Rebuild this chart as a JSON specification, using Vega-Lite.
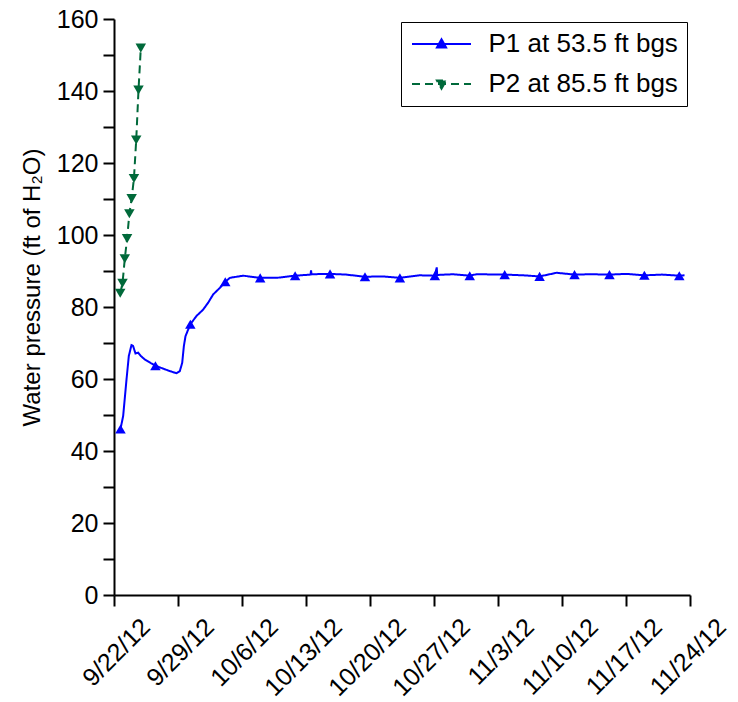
{
  "$schema": "https://vega.github.io/schema/vega-lite/v6.json",
  "width": 576,
  "height": 576,
  "padding": {"left": 20, "top": 7, "right": 5, "bottom": 5},
  "config": {
    "view": {"stroke": null},
    "font": "Liberation Sans",
    "axis": {
      "domainColor": "black", "domainWidth": 2, "tickColor": "black", "tickWidth": 2, "tickSize": 11,
      "labelColor": "black", "titleColor": "black", "labelFont": "Liberation Sans", "titleFont": "Liberation Sans",
      "labelFontSize": 25, "titleFontSize": 24, "titleFontWeight": "normal", "grid": false, "labelPadding": 5,
      "labelOverlap": false
    },
    "legend": {"labelFont": "Liberation Sans"}
  },
  "datasets": {
    "lines": [
      {"series": "P1 at 53.5 ft bgs", "time": "2012-09-22T17:02", "pressure": 46.1},
      {"series": "P1 at 53.5 ft bgs", "time": "2012-09-23T00:00", "pressure": 49.7},
      {"series": "P1 at 53.5 ft bgs", "time": "2012-09-23T08:53", "pressure": 59.9},
      {"series": "P1 at 53.5 ft bgs", "time": "2012-09-23T14:53", "pressure": 66.4},
      {"series": "P1 at 53.5 ft bgs", "time": "2012-09-23T21:50", "pressure": 69.4},
      {"series": "P1 at 53.5 ft bgs", "time": "2012-09-24T02:00", "pressure": 69.2},
      {"series": "P1 at 53.5 ft bgs", "time": "2012-09-24T08:24", "pressure": 67.1},
      {"series": "P1 at 53.5 ft bgs", "time": "2012-09-24T15:36", "pressure": 67.3},
      {"series": "P1 at 53.5 ft bgs", "time": "2012-09-24T22:19", "pressure": 66.4},
      {"series": "P1 at 53.5 ft bgs", "time": "2012-09-25T08:53", "pressure": 65.4},
      {"series": "P1 at 53.5 ft bgs", "time": "2012-09-26T02:24", "pressure": 64.3},
      {"series": "P1 at 53.5 ft bgs", "time": "2012-09-26T12:43", "pressure": 63.7},
      {"series": "P1 at 53.5 ft bgs", "time": "2012-09-27T13:26", "pressure": 62.7},
      {"series": "P1 at 53.5 ft bgs", "time": "2012-09-28T02:24", "pressure": 62.2},
      {"series": "P1 at 53.5 ft bgs", "time": "2012-09-28T20:10", "pressure": 61.6},
      {"series": "P1 at 53.5 ft bgs", "time": "2012-09-29T04:48", "pressure": 62.2},
      {"series": "P1 at 53.5 ft bgs", "time": "2012-09-29T11:02", "pressure": 64.5},
      {"series": "P1 at 53.5 ft bgs", "time": "2012-09-29T15:22", "pressure": 69.1},
      {"series": "P1 at 53.5 ft bgs", "time": "2012-09-29T19:41", "pressure": 71.9},
      {"series": "P1 at 53.5 ft bgs", "time": "2012-09-30T08:24", "pressure": 75.2},
      {"series": "P1 at 53.5 ft bgs", "time": "2012-10-01T00:29", "pressure": 77.5},
      {"series": "P1 at 53.5 ft bgs", "time": "2012-10-01T18:14", "pressure": 79.3},
      {"series": "P1 at 53.5 ft bgs", "time": "2012-10-02T07:12", "pressure": 81.2},
      {"series": "P1 at 53.5 ft bgs", "time": "2012-10-02T20:24", "pressure": 83.5},
      {"series": "P1 at 53.5 ft bgs", "time": "2012-10-03T13:41", "pressure": 85.3},
      {"series": "P1 at 53.5 ft bgs", "time": "2012-10-04T04:05", "pressure": 87.0},
      {"series": "P1 at 53.5 ft bgs", "time": "2012-10-04T16:05", "pressure": 88.1},
      {"series": "P1 at 53.5 ft bgs", "time": "2012-10-06T03:07", "pressure": 88.7},
      {"series": "P1 at 53.5 ft bgs", "time": "2012-10-07T00:58", "pressure": 88.4},
      {"series": "P1 at 53.5 ft bgs", "time": "2012-10-07T23:46", "pressure": 88.1},
      {"series": "P1 at 53.5 ft bgs", "time": "2012-10-09T19:12", "pressure": 88.1},
      {"series": "P1 at 53.5 ft bgs", "time": "2012-10-11T19:26", "pressure": 88.7},
      {"series": "P1 at 53.5 ft bgs", "time": "2012-10-13T12:00", "pressure": 89.0},
      {"series": "P1 at 53.5 ft bgs", "time": "2012-10-13T13:12", "pressure": 90.2},
      {"series": "P1 at 53.5 ft bgs", "time": "2012-10-13T14:24", "pressure": 89.1},
      {"series": "P1 at 53.5 ft bgs", "time": "2012-10-15T15:07", "pressure": 89.2},
      {"series": "P1 at 53.5 ft bgs", "time": "2012-10-17T09:36", "pressure": 89.0},
      {"series": "P1 at 53.5 ft bgs", "time": "2012-10-19T10:48", "pressure": 88.4},
      {"series": "P1 at 53.5 ft bgs", "time": "2012-10-21T09:36", "pressure": 88.5},
      {"series": "P1 at 53.5 ft bgs", "time": "2012-10-23T06:29", "pressure": 88.1},
      {"series": "P1 at 53.5 ft bgs", "time": "2012-10-25T09:36", "pressure": 88.8},
      {"series": "P1 at 53.5 ft bgs", "time": "2012-10-27T02:10", "pressure": 88.7},
      {"series": "P1 at 53.5 ft bgs", "time": "2012-10-27T07:12", "pressure": 91.0},
      {"series": "P1 at 53.5 ft bgs", "time": "2012-10-27T08:24", "pressure": 88.9},
      {"series": "P1 at 53.5 ft bgs", "time": "2012-10-29T02:24", "pressure": 89.1},
      {"series": "P1 at 53.5 ft bgs", "time": "2012-10-30T21:50", "pressure": 88.7},
      {"series": "P1 at 53.5 ft bgs", "time": "2012-10-31T15:36", "pressure": 89.1},
      {"series": "P1 at 53.5 ft bgs", "time": "2012-11-03T17:31", "pressure": 89.0},
      {"series": "P1 at 53.5 ft bgs", "time": "2012-11-05T18:14", "pressure": 88.8},
      {"series": "P1 at 53.5 ft bgs", "time": "2012-11-07T13:12", "pressure": 88.5},
      {"series": "P1 at 53.5 ft bgs", "time": "2012-11-09T09:36", "pressure": 89.5},
      {"series": "P1 at 53.5 ft bgs", "time": "2012-11-11T08:53", "pressure": 89.0},
      {"series": "P1 at 53.5 ft bgs", "time": "2012-11-13T04:48", "pressure": 89.1},
      {"series": "P1 at 53.5 ft bgs", "time": "2012-11-15T04:34", "pressure": 89.0},
      {"series": "P1 at 53.5 ft bgs", "time": "2012-11-17T01:12", "pressure": 89.2},
      {"series": "P1 at 53.5 ft bgs", "time": "2012-11-19T00:14", "pressure": 88.8},
      {"series": "P1 at 53.5 ft bgs", "time": "2012-11-20T21:36", "pressure": 89.0},
      {"series": "P1 at 53.5 ft bgs", "time": "2012-11-22T19:55", "pressure": 88.7},
      {"series": "P1 at 53.5 ft bgs", "time": "2012-11-23T09:36", "pressure": 88.8},
      {"series": "P2 at 85.5 ft bgs", "time": "2012-09-22T16:20", "pressure": 83.8},
      {"series": "P2 at 85.5 ft bgs", "time": "2012-09-22T22:20", "pressure": 86.6},
      {"series": "P2 at 85.5 ft bgs", "time": "2012-09-23T04:20", "pressure": 93.4},
      {"series": "P2 at 85.5 ft bgs", "time": "2012-09-23T10:20", "pressure": 99.0},
      {"series": "P2 at 85.5 ft bgs", "time": "2012-09-23T16:20", "pressure": 105.9},
      {"series": "P2 at 85.5 ft bgs", "time": "2012-09-23T22:20", "pressure": 110.1},
      {"series": "P2 at 85.5 ft bgs", "time": "2012-09-24T04:20", "pressure": 115.7},
      {"series": "P2 at 85.5 ft bgs", "time": "2012-09-24T10:20", "pressure": 126.4},
      {"series": "P2 at 85.5 ft bgs", "time": "2012-09-24T16:20", "pressure": 140.3},
      {"series": "P2 at 85.5 ft bgs", "time": "2012-09-24T22:20", "pressure": 151.9}
    ],
    "markers": [
      {"series": "P1 at 53.5 ft bgs", "time": "2012-09-22T17:02", "pressure": 46.1},
      {"series": "P1 at 53.5 ft bgs", "time": "2012-09-26T12:43", "pressure": 63.7},
      {"series": "P1 at 53.5 ft bgs", "time": "2012-09-30T08:24", "pressure": 75.2},
      {"series": "P1 at 53.5 ft bgs", "time": "2012-10-04T04:05", "pressure": 87.0},
      {"series": "P1 at 53.5 ft bgs", "time": "2012-10-07T23:46", "pressure": 88.1},
      {"series": "P1 at 53.5 ft bgs", "time": "2012-10-11T19:26", "pressure": 88.7},
      {"series": "P1 at 53.5 ft bgs", "time": "2012-10-15T15:07", "pressure": 89.2},
      {"series": "P1 at 53.5 ft bgs", "time": "2012-10-19T10:48", "pressure": 88.4},
      {"series": "P1 at 53.5 ft bgs", "time": "2012-10-23T06:29", "pressure": 88.1},
      {"series": "P1 at 53.5 ft bgs", "time": "2012-10-27T02:10", "pressure": 88.7},
      {"series": "P1 at 53.5 ft bgs", "time": "2012-10-30T21:50", "pressure": 88.7},
      {"series": "P1 at 53.5 ft bgs", "time": "2012-11-03T17:31", "pressure": 89.0},
      {"series": "P1 at 53.5 ft bgs", "time": "2012-11-07T13:12", "pressure": 88.5},
      {"series": "P1 at 53.5 ft bgs", "time": "2012-11-11T08:53", "pressure": 89.0},
      {"series": "P1 at 53.5 ft bgs", "time": "2012-11-15T04:34", "pressure": 89.0},
      {"series": "P1 at 53.5 ft bgs", "time": "2012-11-19T00:14", "pressure": 88.8},
      {"series": "P1 at 53.5 ft bgs", "time": "2012-11-22T19:55", "pressure": 88.7},
      {"series": "P2 at 85.5 ft bgs", "time": "2012-09-22T16:20", "pressure": 83.8},
      {"series": "P2 at 85.5 ft bgs", "time": "2012-09-22T22:20", "pressure": 86.6},
      {"series": "P2 at 85.5 ft bgs", "time": "2012-09-23T04:20", "pressure": 93.4},
      {"series": "P2 at 85.5 ft bgs", "time": "2012-09-23T10:20", "pressure": 99.0},
      {"series": "P2 at 85.5 ft bgs", "time": "2012-09-23T16:20", "pressure": 105.9},
      {"series": "P2 at 85.5 ft bgs", "time": "2012-09-23T22:20", "pressure": 110.1},
      {"series": "P2 at 85.5 ft bgs", "time": "2012-09-24T04:20", "pressure": 115.7},
      {"series": "P2 at 85.5 ft bgs", "time": "2012-09-24T10:20", "pressure": 126.4},
      {"series": "P2 at 85.5 ft bgs", "time": "2012-09-24T16:20", "pressure": 140.3},
      {"series": "P2 at 85.5 ft bgs", "time": "2012-09-24T22:20", "pressure": 151.9}
    ]
  },
  "encoding": {
    "x": {
      "field": "time", "type": "temporal", "title": null,
      "scale": {"domain": [{"year": 2012, "month": 9, "date": 22}, {"year": 2012, "month": 11, "date": 24}]},
      "axis": {
        "format": "%-m/%-d/%y", "labelAngle": -45, "labelAlign": "right", "labelBaseline": "top",
        "labelOffset": 23, "labelPadding": 8,
        "values": [
          {"year": 2012, "month": 9, "date": 22}, {"year": 2012, "month": 9, "date": 29},
          {"year": 2012, "month": 10, "date": 6}, {"year": 2012, "month": 10, "date": 13},
          {"year": 2012, "month": 10, "date": 20}, {"year": 2012, "month": 10, "date": 27},
          {"year": 2012, "month": 11, "date": 3}, {"year": 2012, "month": 11, "date": 10},
          {"year": 2012, "month": 11, "date": 17}, {"year": 2012, "month": 11, "date": 24}
        ]
      }
    },
    "y": {
      "field": "pressure", "type": "quantitative", "title": "Water pressure (ft of H₂O)",
      "scale": {"domain": [0, 160], "nice": false},
      "axis": {
        "values": [0, 10, 20, 30, 40, 50, 60, 70, 80, 90, 100, 110, 120, 130, 140, 150, 160],
        "labelExpr": "datum.value % 20 === 0 ? datum.label : ''",
        "titlePadding": 12, "titleY": 268
      }
    },
    "color": {
      "field": "series", "type": "nominal",
      "scale": {"domain": ["P1 at 53.5 ft bgs", "P2 at 85.5 ft bgs"], "range": ["#0000ff", "#00693a"]}
    }
  },
  "layer": [
    {
      "data": {"name": "lines"},
      "mark": {"type": "line", "strokeWidth": 2},
      "encoding": {
        "strokeDash": {
          "field": "series", "type": "nominal", "legend": null,
          "scale": {"domain": ["P1 at 53.5 ft bgs", "P2 at 85.5 ft bgs"], "range": [[1, 0], [8, 5]]}
        },
        "color": {
          "field": "series", "type": "nominal",
          "legend": {
            "title": null, "orient": "top-right", "offset": 3, "padding": 9,
            "strokeColor": "black", "fillColor": "white",
            "labelFontSize": 26, "labelColor": "black", "labelLimit": 400, "labelOffset": 34, "rowPadding": 14,
            "symbolSize": 100, "symbolOffset": 18.5, "symbolStrokeWidth": 1.8,
            "encode": {
              "symbols": {
                "update": {
                  "shape": {"signal": "datum.value === 'P1 at 53.5 ft bgs' ? 'M-5.9,0H5.9M0,-1L0.95,0.7L-0.95,0.7Z' : 'M-5.9,0H5.9M0,1L0.95,-0.7L-0.95,-0.7Z'"},
                  "fill": {"signal": "datum.value === 'P1 at 53.5 ft bgs' ? '#0000ff' : '#00693a'"},
                  "stroke": {"signal": "datum.value === 'P1 at 53.5 ft bgs' ? '#0000ff' : '#00693a'"},
                  "strokeDash": {"signal": "datum.value === 'P1 at 53.5 ft bgs' ? [1, 0] : [5, 4.5]"},
                  "opacity": {"value": 1}
                }
              }
            }
          }
        }
      }
    },
    {
      "data": {"name": "markers"},
      "transform": [{"filter": "datum.series === 'P1 at 53.5 ft bgs'"}],
      "mark": {"type": "point", "filled": true, "size": 110, "opacity": 1, "shape": "triangle-up"},
      "encoding": {
        "color": {"field": "series", "type": "nominal", "legend": null}
      }
    },
    {
      "data": {"name": "markers"},
      "transform": [{"filter": "datum.series === 'P2 at 85.5 ft bgs'"}],
      "mark": {"type": "point", "filled": true, "size": 110, "opacity": 1, "shape": "triangle-down"},
      "encoding": {
        "color": {"field": "series", "type": "nominal", "legend": null}
      }
    }
  ]
}
